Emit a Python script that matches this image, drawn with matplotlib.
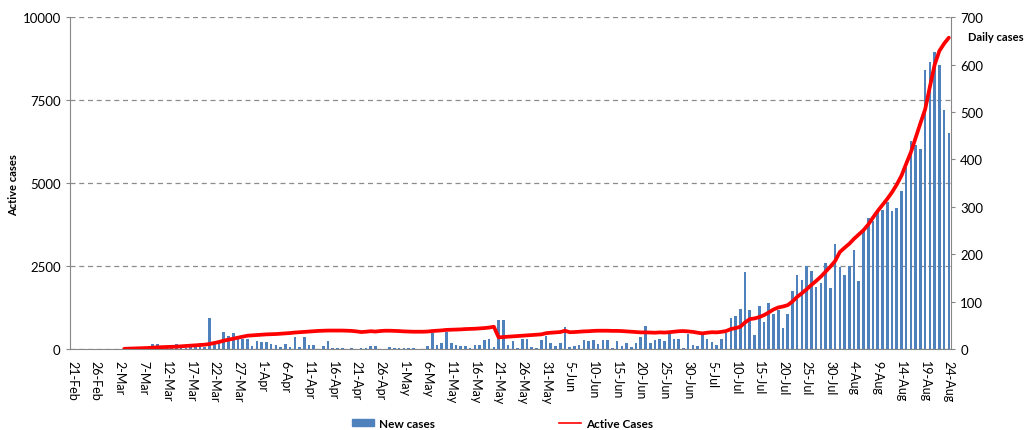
import numpy as np
import pandas as pd
import matplotlib
matplotlib.use("Agg")
import matplotlib.pyplot as plt
from matplotlib.lines import Line2D
from matplotlib.patches import Patch

plt.rcParams['font.family'] = ['Lato', 'DejaVu Sans']

# one entry per day, 21-Feb to 24-Aug
dates = pd.date_range("2020-02-21", "2020-08-24", freq="D")

new_feb = [0] * 9
new_mar = [0, 0, 1, 0, 2, 3, 4, 1, 10, 10, 3, 7, 4, 10, 4, 3, 5, 4, 13, 5,
           65, 10, 13, 35, 27, 34, 20, 21, 22, 7, 16]
new_apr = [14, 14, 11, 8, 4, 11, 4, 25, 5, 25, 8, 8, 0, 6, 16, 2, 2, 2, 0, 2,
           0, 2, 3, 6, 6, 0, 0, 4, 2, 2]
new_may = [2, 2, 2, 0, 0, 7, 33, 9, 12, 35, 12, 9, 6, 6, 3, 9, 8, 19, 21, 5,
           61, 61, 9, 16, 2, 21, 21, 5, 2, 18, 27]
new_jun = [12, 6, 12, 47, 4, 6, 9, 18, 16, 18, 11, 18, 18, 2, 16, 7, 13, 4, 13, 25,
           49, 13, 18, 20, 16, 32, 20, 20, 2, 32]
new_jul = [8, 7, 30, 22, 15, 8, 20, 34, 65, 70, 85, 163, 83, 30, 90, 56, 98, 74, 83, 44,
           74, 123, 155, 145, 174, 165, 130, 139, 181, 128, 221]
new_aug = [172, 155, 174, 209, 144, 253, 277, 270, 294, 294, 309, 291, 297, 334, 397, 439,
           430, 421, 588, 605, 626, 600, 505, 455]

active_feb = [None] * 9
active_mar = [None, None, 5, 10, 15, 20, 25, 30, 40, 50, 55, 60, 65, 70, 80, 90, 100, 110,
              120, 130, 150, 180, 210, 250, 280, 310, 340, 370, 400, 410, 420]
active_apr = [430, 440, 445, 450, 460, 470, 480, 495, 505, 515, 525, 535, 545, 550, 555,
              555, 555, 555, 550, 545, 530, 510, 520, 535, 525, 540, 550, 550, 545, 540]
active_may = [530, 525, 520, 520, 520, 525, 540, 550, 560, 575, 580, 585, 590, 600, 605,
              610, 620, 630, 645, 670, 350, 360, 370, 380, 390, 400, 410, 420, 430, 440, 475]
active_jun = [490, 500, 510, 550, 505, 510, 520, 530, 535, 545, 550, 550, 550, 545, 545,
              540, 530, 520, 510, 500, 500, 495, 490, 500, 495, 505, 520, 535, 540, 530]
active_jul = [515, 490, 470, 490, 505, 500, 515, 540, 600, 630, 670, 800, 900, 920, 960,
              1020, 1100, 1190, 1250, 1280, 1320, 1430, 1570, 1680, 1800, 1930, 2050, 2180,
              2330, 2480, 2650]
active_aug = [2920, 3050, 3170, 3320, 3450, 3580, 3750, 3960, 4160, 4340, 4520, 4720, 4950,
              5220, 5580, 5930, 6370, 6800, 7220, 7900, 8560, 8980, 9200, 9380]

new_cases = new_feb + new_mar + new_apr + new_may + new_jun + new_jul + new_aug
active_cases = np.array(active_feb + active_mar + active_apr + active_may + active_jun
                        + active_jul + active_aug, dtype=float)

tick_idx = list(range(0, len(dates), 5))
tick_labels = [f"{dates[i].day}-{dates[i]:%b}" for i in tick_idx]

blue = "#4F81BD"
grey = "#878787"

fig = plt.figure(figsize=(10.25, 4.31), dpi=100)
ax = fig.add_axes([0.068, 0.188, 0.860, 0.770])
x = np.arange(len(dates))

# left axis: grid + ticks
ax.set_xlim(-0.5, len(dates) - 0.5)
ax.set_ylim(0, 10000)
ax.set_yticks([0, 2500, 5000, 7500, 10000])
ax.yaxis.grid(True, linestyle=(0, (4, 3)), color="#8c8c8c", linewidth=0.9)
ax.set_axisbelow(True)
ax.set_xticks(tick_idx)
ax.set_xticklabels(tick_labels, rotation=270, fontsize=9)
ax.tick_params(axis="x", length=0, pad=8)
ax.tick_params(axis="y", labelsize=9.5, length=3, color=grey)
for side in ("left", "bottom"):
    ax.spines[side].set_color(grey)
ax.spines["top"].set_visible(False)
ax.spines["right"].set_visible(False)
fig.text(0.013, 0.57, "Active cases", rotation=90, ha="center", va="center",
         fontsize=8, fontweight="bold")

# right axis: daily bars
ax2 = ax.twinx()
ax2.bar(x, new_cases, width=0.55, color=blue, zorder=2)
ax2.set_ylim(0, 700)
ax2.set_yticks(range(0, 701, 100))
ax2.tick_params(axis="y", labelsize=9.5, length=3, color=grey)
ax2.spines["right"].set_color(grey)
ax2.spines["top"].set_visible(False)
ax2.spines["left"].set_visible(False)
ax2.spines["bottom"].set_visible(False)

# line on top of the bars
ax3 = fig.add_axes(ax.get_position(), sharex=ax, sharey=ax)
ax3.patch.set_visible(False)
ax3.axis("off")
ax3.plot(x, active_cases, color="#FF0000", linewidth=2.7, solid_capstyle="round")

fig.text(0.944, 0.905, "Daily cases", fontsize=8, fontweight="bold")

handles = [Patch(color=blue, label="New cases"),
           Line2D([0], [0], color="#FF0000", linewidth=1.2, label="Active Cases")]
fig.legend(handles=handles, loc="lower center", bbox_to_anchor=(0.49, -0.022),
           ncol=2, frameon=False, columnspacing=10.5, handlelength=1.9,
           handletextpad=0.4, handleheight=0.45, prop={"size": 8.5, "weight": "bold"})

fig.savefig("out.png", dpi=100)
